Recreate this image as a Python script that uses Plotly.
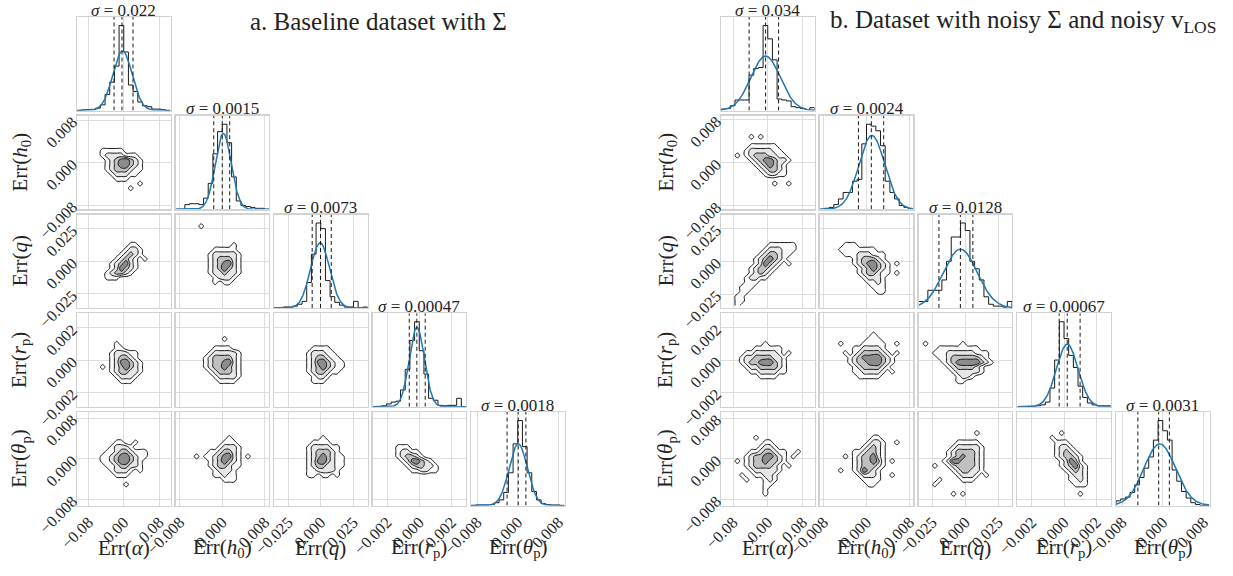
import numpy as np
import plotly.graph_objects as go

W, H = 1233, 576
FONT = "Liberation Serif, Times New Roman, serif"

# ---------------- shared labels / ticks ----------------
X_TITLES = ["Err(<i>α</i>)", "Err(<i>h</i><sub>0</sub>)", "Err(<i>q</i>)",
            "Err(<i>r</i><sub>p</sub>)", "Err(<i>θ</i><sub>p</sub>)"]
TICK_VALS = [[-0.08, 0, 0.08], [-0.008, 0, 0.008], [-0.025, 0, 0.025],
             [-0.002, 0, 0.002], [-0.008, 0, 0.008]]
TICK_TEXT = [["−0.08", "0.00", "0.08"], ["−0.008", "0.000", "0.008"],
             ["−0.025", "0.000", "0.025"], ["−0.002", "0.000", "0.002"],
             ["−0.008", "0.000", "0.008"]]

# ---------------- panel a ----------------
A_TITLE = "a. Baseline dataset with Σ"
A_HALF_RANGE = [0.106, 0.0088, 0.036, 0.0029, 0.0092]
A_SIGMA = [0.022, 0.0015, 0.0073, 0.00047, 0.0018]
A_SIGMA_TEXT = ["0.022", "0.0015", "0.0073", "0.00047", "0.0018"]
A_MU = [-0.003, 0.0002, -0.0005, -0.00015, 0.0001]
A_GAUSS_PEAK = [63, 82, 69, 85, 66]
A_QUANTILES = [[-0.022, -0.004, 0.021], [-0.0016, 0.0000, 0.0014],
               [-0.0066, -0.0002, 0.0081], [-0.00062, -0.00015, 0.00037],
               [-0.0021, 0.0001, 0.0016]]
A_HIST = [
    [0, 0.7, 1.0, 1.2, 2.5, 6, 17, 30, 47, 90, 62, 27, 20, 9, 5, 4, 1.5, 1.5, 0.8, 0],
    [0, 0, 5, 6, 6, 5, 12, 28, 60, 84, 92, 72, 35, 9, 4, 3, 2, 1, 1, 0],
    [0, 0, 1, 1, 2, 4, 7, 27, 57, 90, 84, 29, 12, 6, 3, 1, 1, 7, 0, 1],
    [0, 0, 1, 3, 5, 6, 18, 40, 71, 91, 60, 35, 9, 7, 1.5, 1, 1.5, 1.5, 9, 0],
    [0, 0.5, 0.5, 0.5, 1, 3, 6, 14, 35, 66, 91, 63, 35, 15, 6, 2, 1, 0.5, 0.5, 0],
]
# 2-D density (20x20 bins, row 0 = top), given as (first row, rows)
A_DENSITY = {
    (1, 0): (7, ["00000222220000000000",
                 "00000244442220000000",
                 "00000024689642000000",
                 "00000024699642000000",
                 "00000024666422000000",
                 "00000002444220000000",
                 "00000000222000000000",
                 "00000000000002000000",
                 "00000000000200000000"]),
    (2, 0): (6, ["00000000000220000000",
                 "00000000002442000000",
                 "00000000024642000000",
                 "00000000246420200000",
                 "00000002469420000000",
                 "00000002496420000000",
                 "00000024664200000000",
                 "00000022200000000000"]),
    (3, 0): (6, ["00000000200000000000",
                 "00000000220000000000",
                 "00000002444220000000",
                 "00000002466420000000",
                 "00000002489642000000",
                 "00000202469642000000",
                 "00000002466442000000",
                 "00000000244420000000",
                 "00000000022200000000"]),
    (4, 0): (6, ["00000000220020000000",
                 "00000002444200000000",
                 "00000022466422200000",
                 "00000224689642200000",
                 "00000224699642000000",
                 "00000022466442000000",
                 "00000002444202000000",
                 "00000000222000000000",
                 "00000000000000000000",
                 "00000000002000000000"]),
    (2, 1): (2, ["00000200000000000000",
                 "00000000000000000000",
                 "00000000000000000000",
                 "00000000000000000000",
                 "00000000000020000000",
                 "00000000222220000000",
                 "00000002444442000000",
                 "00000002466642000000",
                 "00000002468942000000",
                 "00000002469642000000",
                 "00000002446442000000",
                 "00000000244420000000",
                 "00000000202200000000"]),
    (3, 1): (5, ["00000000002000000000",
                 "00000000000000000000",
                 "00000000222200000000",
                 "00000002444442000000",
                 "00000024666642000000",
                 "00000024668942000000",
                 "00000024669642000000",
                 "00000002466642000000",
                 "00000000244442000000",
                 "00000000022220000000"]),
    (4, 1): (5, ["00000000000200000000",
                 "00000000002220000000",
                 "00000000024442000000",
                 "00000002246642000000",
                 "00002022468942020000",
                 "00000002469642000000",
                 "00000002466422000000",
                 "00000000244420000000",
                 "00000000224220000000",
                 "00000000002220000000"]),
    (3, 2): (7, ["00000000222200000000",
                 "00000002444220000000",
                 "00000002466422000000",
                 "00000002489642200000",
                 "00000002469642200000",
                 "00000002466422000000",
                 "00000000244200000000",
                 "00000000222000000000"]),
    (4, 2): (5, ["00000000002000000000",
                 "00000000222200000000",
                 "00000002444422000000",
                 "00000002466642000000",
                 "00000002469642200000",
                 "00000002489642200000",
                 "00000002466442200000",
                 "00000002244442000000",
                 "00000002202202000000"]),
    (4, 3): (7, ["00000222000000000000",
                 "00000244220000000000",
                 "00000246642000000000",
                 "00000024896420000000",
                 "00000002466442000000",
                 "00000000224422000000"]),
}

# ---------------- panel b ----------------
B_TITLE = "b. Dataset with noisy Σ and noisy v<sub>LOS</sub>"
B_HALF_RANGE = [0.108, 0.0087, 0.0355, 0.0029, 0.0092]
B_SIGMA = [0.034, 0.0024, 0.0128, 0.00067, 0.0031]
B_SIGMA_TEXT = ["0.034", "0.0024", "0.0128", "0.00067", "0.0031"]
B_MU = [-0.005, 0.001, -0.0037, 0.0002, -0.0006]
B_GAUSS_PEAK = [57, 79, 63, 67, 66]
B_QUANTILES = [[-0.043, -0.005, 0.025], [-0.0015, 0.0009, 0.0032],
               [-0.020, -0.0037, 0.0058], [-0.0003, 0.0002, 0.0010],
               [-0.0049, -0.0008, 0.0013]]
B_HIST = [
    [1.5, 2, 5, 11, 11, 11, 37, 44, 45, 89, 75, 53, 12, 11, 10, 4, 3, 2, 1, 3],
    [0, 1, 2, 5, 11, 18, 18, 30, 32, 70, 91, 89, 84, 68, 30, 18, 11, 4, 2, 0],
    [7, 7, 19, 19, 19, 30, 50, 76, 76, 91, 83, 50, 42, 30, 12, 4, 2, 2, 1, 7],
    [0, 0, 0, 0.5, 1, 2, 5, 20, 50, 91, 73, 55, 42, 22, 10, 4, 2, 1, 1, 1],
    [5, 7, 9, 14, 22, 30, 40, 52, 70, 91, 80, 70, 38, 26, 15, 8, 3, 1, 0, 0],
]
B_DENSITY = {
    (1, 0): (4, ["00000020200000000000",
                 "00000000000000000000",
                 "00000022222200000000",
                 "00000244444220000000",
                 "00020246664422000000",
                 "00000024689644200000",
                 "00000002469642000000",
                 "00000000246642000000",
                 "00000000024422000000",
                 "00000000000000000000",
                 "00000000000200200000"]),
    (2, 0): (6, ["00000000002222220000",
                 "00000000024442220000",
                 "00000000246642200000",
                 "00000002469642000000",
                 "00000002496420200000",
                 "00000024664200000000",
                 "00000024642000000000",
                 "00000244220000000000",
                 "00000222000000000000",
                 "00002220000000000000",
                 "00002200000000000000",
                 "00022000000000000000",
                 "00022000000000000000",
                 "00020000000000000000"]),
    (3, 0): (6, ["00000000020000000000",
                 "00000002222220000000",
                 "00000224444420200000",
                 "00002446666442000000",
                 "00002466899642000000",
                 "00000244666642000000",
                 "00000022444422000000",
                 "00000000222200000000"]),
    (4, 0): (5, ["00000002000000000000",
                 "00000000022000000000",
                 "00000000244200000000",
                 "00000022466422002000",
                 "00000246689642020000",
                 "00020246696642000000",
                 "00000246666420200000",
                 "00000024444420000000",
                 "00002002244200000000",
                 "00000200024200000000",
                 "00000000022000000000",
                 "00000000020000000000",
                 "00000000020000000000"]),
    (2, 1): (6, ["00000222000000000000",
                 "00002222222200000000",
                 "00000222444222000000",
                 "00000002466642000000",
                 "00000002468964202000",
                 "00000000246964200000",
                 "00000000246642202000",
                 "00000000024442000000",
                 "00000000002242000000",
                 "00000000000222000000",
                 "00000000000022000000"]),
    (3, 1): (4, ["00000000000200000000",
                 "00000000002220000000",
                 "00002000022222002000",
                 "00000002244442000000",
                 "00000202466664202000",
                 "00000024688996420000",
                 "00000024668996420000",
                 "00000002466664200000",
                 "00000002244442020000",
                 "00000000222220000000"]),
    (4, 1): (5, ["00000000000220000000",
                 "00000000002442002000",
                 "00000000024642000000",
                 "00000002246642000000",
                 "00000202466942000000",
                 "00000002466962020000",
                 "00000002466642000000",
                 "00002002496420000000",
                 "00000000244420020000",
                 "00000000022220000000",
                 "00000000002200000000"]),
    (3, 2): (6, ["02000000020000000000",
                 "00002222222220000000",
                 "00022244444422200000",
                 "00002246666664200000",
                 "00000246899996420000",
                 "00000024666642000000",
                 "00000002444442000000",
                 "00000000244200000000",
                 "00000000220000000000"]),
    (4, 2): (4, ["00000000000020000000",
                 "00000000000000000000",
                 "00000000222220000000",
                 "00000002444442000000",
                 "00000024666642000000",
                 "00000024686642000000",
                 "00000249866642000000",
                 "00020024666642000000",
                 "00000002466442000000",
                 "00000000244420200000",
                 "00002000022200000000",
                 "00020000000000000000",
                 "00000000000000000000",
                 "00000002020000000000"]),
    (4, 3): (4, ["00000000020000000000",
                 "00000002000000000000",
                 "00000000222000000000",
                 "00000000244200000000",
                 "00000000246420000000",
                 "00000000246642000000",
                 "00000000024962000000",
                 "00000000024694200000",
                 "00000000002464200000",
                 "00000000000244200000",
                 "00000000000224200000",
                 "00000000000022200000",
                 "00000000000000000000",
                 "00000000000002000000"]),
}

PANELS = [
    dict(title=A_TITLE, half=A_HALF_RANGE, sigma=A_SIGMA, sigma_text=A_SIGMA_TEXT,
         mu=A_MU, gpeak=A_GAUSS_PEAK, quant=A_QUANTILES, hist=A_HIST, dens=A_DENSITY,
         col_x0=[77, 175.5, 274, 372.5, 471], ylab_x=20, title_xy=(378, 21)),
    dict(title=B_TITLE, half=B_HALF_RANGE, sigma=B_SIGMA, sigma_text=B_SIGMA_TEXT,
         mu=B_MU, gpeak=B_GAUSS_PEAK, quant=B_QUANTILES, hist=B_HIST, dens=B_DENSITY,
         col_x0=[721, 819.75, 918.5, 1017.25, 1116], ylab_x=666, title_xy=(1023, 22)),
]
ROW_Y0 = [17, 115.75, 214.5, 313.25, 412]
CELL = 93.5
NB = 20

FRAME = "#d2d2d2"
GRID = "#dddddd"
TXT = "#222222"
C1, C2, C3, C4, CDARK = "rgb(250,250,250)", "rgb(230,230,230)", "rgb(192,192,192)", "rgb(140,140,140)", "rgb(40,40,40)"
CSCALE = [[0, "rgba(255,255,255,0)"], [0.125, "rgba(255,255,255,0)"],
          [0.125, C1], [0.375, C1], [0.375, C2], [0.625, C2],
          [0.625, C3], [0.875, C3], [0.875, C4], [1, C4]]

fig = go.Figure()
layout = {}
annotations = []
n = 0


def pxx(x):
    return x / W


def pxy(y):
    return 1 - y / H


def density_grid(spec):
    r0, rows = spec
    z = np.zeros((NB, NB))
    for k, s in enumerate(rows):
        s = s.ljust(NB, "0")[:NB]
        z[r0 + k, :] = [int(ch) for ch in s]
    return z[::-1, :]  # row 0 -> top (max y)


for P in PANELS:
    for i in range(5):
        for j in range(i + 1):
            n += 1
            xk = "xaxis" if n == 1 else f"xaxis{n}"
            yk = "yaxis" if n == 1 else f"yaxis{n}"
            xr = "x" if n == 1 else f"x{n}"
            yr = "y" if n == 1 else f"y{n}"
            x0 = P["col_x0"][j]
            y0 = ROW_Y0[i]
            Rx = P["half"][j]
            common = dict(showline=True, mirror=True, linecolor=FRAME, linewidth=1.3,
                          gridcolor=GRID, gridwidth=1, zeroline=False, ticks="", automargin=False,
                          tickfont=dict(family=FONT, size=16, color=TXT), fixedrange=True)
            layout[xk] = dict(domain=[pxx(x0), pxx(x0 + CELL)], range=[-Rx, Rx],
                              tickvals=TICK_VALS[j], ticktext=TICK_TEXT[j],
                              showticklabels=(i == 4), tickangle=-45, anchor=yr, **common)
            if i == j:
                hist = np.array(P["hist"][j], dtype=float)
                ymax = 1.1 * hist.max()
                layout[yk] = dict(domain=[pxy(y0 + CELL), pxy(y0)], range=[0, ymax],
                                  showgrid=False, showticklabels=False, anchor=xr, **common)
                edges = np.linspace(-Rx, Rx, NB + 1)
                hx = np.concatenate([[edges[0]], edges, [edges[-1]]])
                hy = np.concatenate([[0], hist, [hist[-1]], [0]])
                fig.add_trace(go.Scatter(x=hx, y=hy, mode="lines", line=dict(color="#1a1a1a", width=1, shape="hv"),
                                         xaxis=xr, yaxis=yr, hoverinfo="skip", showlegend=False))
                gx = np.linspace(-Rx, Rx, 300)
                gy = P["gpeak"][j] * np.exp(-0.5 * ((gx - P["mu"][j]) / P["sigma"][j]) ** 2)
                fig.add_trace(go.Scatter(x=gx, y=gy, mode="lines", line=dict(color="#1f77b4", width=1.5),
                                         xaxis=xr, yaxis=yr, hoverinfo="skip", showlegend=False))
                qx, qy = [], []
                for q in P["quant"][j]:
                    qx += [q, q, None]
                    qy += [0, ymax, None]
                fig.add_trace(go.Scatter(x=qx, y=qy, mode="lines", line=dict(color="#1a1a1a", width=1, dash="4px,3px"),
                                         xaxis=xr, yaxis=yr, hoverinfo="skip", showlegend=False))
                annotations.append(dict(x=pxx(x0 + CELL / 2), y=pxy(y0 - 7), xref="paper", yref="paper",
                                        text=f"<i>σ</i> = {P['sigma_text'][j]}", showarrow=False,
                                        font=dict(family=FONT, size=17, color=TXT), xanchor="center", yanchor="middle"))
            else:
                Ry = P["half"][i]
                layout[yk] = dict(domain=[pxy(y0 + CELL), pxy(y0)], range=[-Ry, Ry],
                                  tickvals=TICK_VALS[i], ticktext=TICK_TEXT[i],
                                  showticklabels=(j == 0), tickangle=-45, anchor=xr, **common)
                z = density_grid(P["dens"][(i, j)])
                cx = -Rx + (np.arange(NB) + 0.5) * (2 * Rx / NB)
                cy = -Ry + (np.arange(NB) + 0.5) * (2 * Ry / NB)
                fig.add_trace(go.Contour(x=cx, y=cy, z=z, autocontour=False,
                                         contours=dict(start=1, end=7, size=2, coloring="fill"),
                                         colorscale=CSCALE, showscale=False,
                                         line=dict(color="#1a1a1a", width=1, smoothing=1.0),
                                         xaxis=xr, yaxis=yr, hoverinfo="skip"))
                zd = np.where(z >= 9, 1.0, np.nan)
                fig.add_trace(go.Heatmap(x=cx, y=cy, z=zd, colorscale=[[0, CDARK], [1, CDARK]],
                                         showscale=False, xaxis=xr, yaxis=yr, hoverinfo="skip"))
    # axis titles
    for j in range(5):
        annotations.append(dict(x=pxx(P["col_x0"][j] + CELL / 2), y=pxy(548), xref="paper", yref="paper",
                                text=X_TITLES[j], showarrow=False, font=dict(family=FONT, size=21, color=TXT),
                                xanchor="center", yanchor="middle"))
    for i in range(1, 5):
        annotations.append(dict(x=pxx(P["ylab_x"]), y=pxy(ROW_Y0[i] + CELL / 2), xref="paper", yref="paper",
                                text=X_TITLES[i], showarrow=False, textangle=-90,
                                font=dict(family=FONT, size=21, color=TXT), xanchor="center", yanchor="middle"))
    annotations.append(dict(x=pxx(P["title_xy"][0]), y=pxy(P["title_xy"][1]), xref="paper", yref="paper",
                            text=P["title"], showarrow=False, font=dict(family=FONT, size=25, color=TXT),
                            xanchor="center", yanchor="middle"))

fig.update_layout(width=W, height=H, margin=dict(l=0, r=0, t=0, b=0),
                  paper_bgcolor="white", plot_bgcolor="white", showlegend=False,
                  hovermode=False, annotations=annotations, **layout)
# drop the page's default 8 px body margin so the figure sits at the window's corner
fig.write_html("out.html", config={"displayModeBar": False, "staticPlot": True},
               post_script="document.body.style.margin='0';")
